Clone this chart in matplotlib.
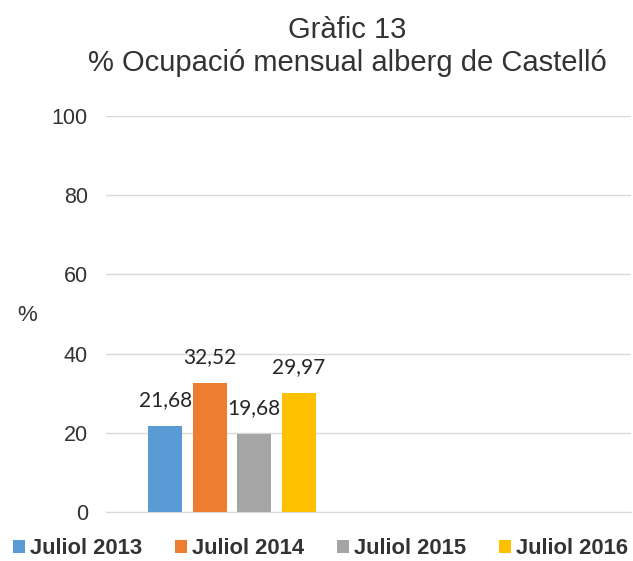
import matplotlib
matplotlib.use("Agg")
import matplotlib.pyplot as plt

series = ["Juliol 2013", "Juliol 2014", "Juliol 2015", "Juliol 2016"]
values = [21.68, 32.52, 19.68, 29.97]
labels = ["21,68", "32,52", "19,68", "29,97"]
colors = ["#5B9BD5", "#ED7D31", "#A5A5A5", "#FFC000"]
yticks = [0, 20, 40, 60, 80, 100]

fig = plt.figure(figsize=(6.33, 5.61), dpi=100)
ax = fig.add_axes([0.1675, 0.0873, 0.8294, 0.7059])

width = 0.1295
step = 0.169
for i, (s, v, c, lab) in enumerate(zip(series, values, colors, labels)):
    x = (i - 1.5) * step
    ax.bar(x, v, width=width, color=c, label=s, zorder=3)
    ax.annotate(lab, (x, v), xytext=(0, 11.5), textcoords="offset points",
                ha="center", va="bottom", fontsize=15, family="Lato", color="#262626")

ax.set_xlim(-0.48, 1.52)
ax.set_ylim(0, 100)
ax.set_yticks(yticks)
ax.set_yticklabels([str(t) for t in yticks], family="Liberation Sans", fontsize=15.5,
                   color="#333333")
ax.set_xticks([])
ax.tick_params(axis="y", length=0, pad=13)
ax.grid(axis="y", color="#D9D9D9", linewidth=1, zorder=0)
for sp in ["top", "right", "left"]:
    ax.spines[sp].set_visible(False)
ax.spines["bottom"].set_color("#D9D9D9")

fig.text(0.043, 0.4385, "%", fontsize=16, family="Liberation Sans", ha="center",
         va="center", color="#333333")
fig.text(0.548, 1 - 38 / 561, "Gràfic 13", fontsize=21, family="Liberation Sans",
         ha="center", va="baseline", color="#333333")
fig.text(0.548, 1 - 71 / 561, "% Ocupació mensual alberg de Castelló", fontsize=21,
         family="Liberation Sans", ha="center", va="baseline", color="#333333")

fig.legend(loc="center", bbox_to_anchor=(0.506, 1 - 549 / 561), ncol=4, frameon=False,
           prop={"family": "Liberation Sans", "size": 15.8, "weight": "bold"},
           labelcolor="#333333",
           handlelength=0.55, handleheight=0.55, handletextpad=0.23, columnspacing=1.5,
           borderpad=0, borderaxespad=0)

fig.savefig("out.png", dpi=100)
